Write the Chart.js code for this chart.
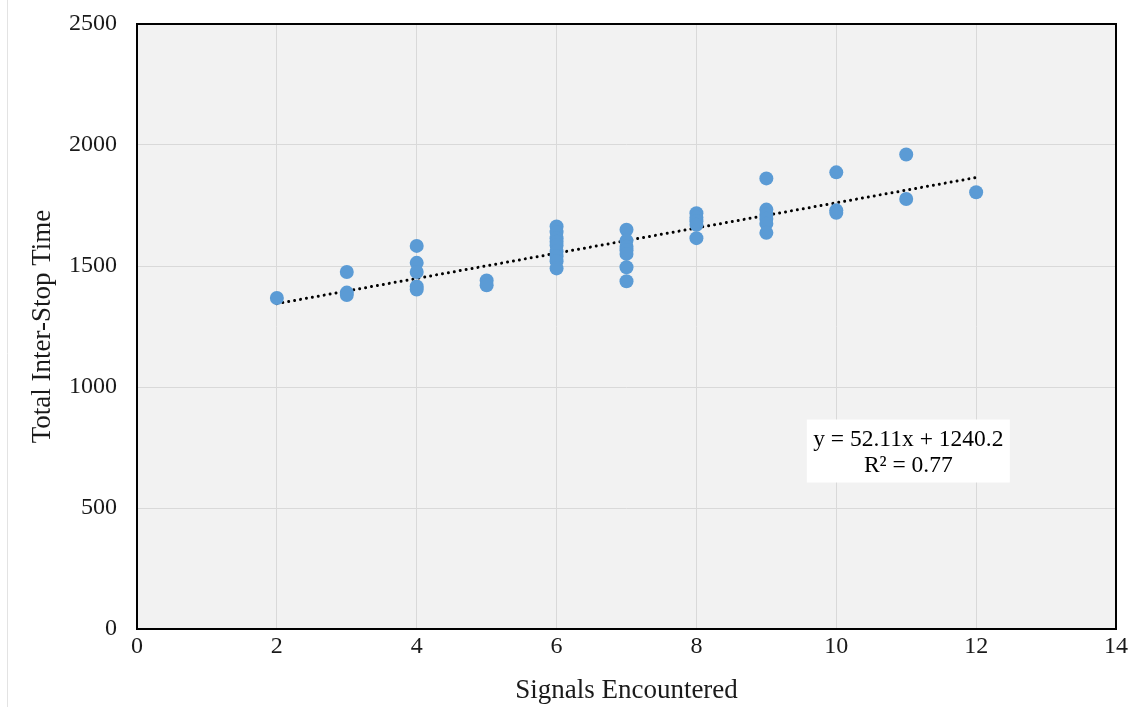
<!DOCTYPE html>
<html>
<head>
<meta charset="utf-8">
<script src="https://cdn.jsdelivr.net/npm/chart.js@4.4.1/dist/chart.umd.min.js"></script>
<style>
  html, body { margin: 0; padding: 0; background: #ffffff; }
  #wrap { width: 1130px; height: 707px; position: relative; }
</style>
</head>
<body>
<div id="wrap"><canvas id="c" width="1130" height="707"></canvas></div>
<script>
// Observations: number of signals encountered vs. total inter-stop time
const signals = [
  2,
  3, 3, 3,
  4, 4, 4, 4, 4,
  5, 5,
  6, 6, 6, 6, 6, 6, 6, 6, 6,
  7, 7, 7, 7, 7, 7, 7,
  8, 8, 8, 8, 8,
  9, 9, 9, 9, 9, 9,
  10, 10, 10,
  11, 11,
  12
];
const interStopTime = [
  1368,
  1475, 1390, 1380,
  1583, 1513, 1475, 1415, 1403,
  1440, 1420,
  1663, 1640, 1615, 1600, 1585, 1560, 1540, 1520, 1490,
  1650, 1605, 1580, 1565, 1550, 1495, 1437,
  1718, 1700, 1685, 1670, 1615,
  1862, 1733, 1712, 1695, 1675, 1637,
  1887, 1730, 1720,
  1961, 1777,
  1805
];

// Linear fit reported on the chart
const slope = 52.11;
const intercept = 1240.2;
const fitRange = [2, 12];
const equationLines = ['y = 52.11x + 1240.2', 'R\u00B2 = 0.77'];

const xTicks = [0, 2, 4, 6, 8, 10, 12, 14];
const yTicks = [0, 500, 1000, 1500, 2000, 2500];

const scatterData = signals.map((s, i) => ({ x: s, y: interStopTime[i] }));
const fitData = fitRange.map(x => ({ x: x, y: slope * x + intercept }));

const SERIF = '"Liberation Serif", "DejaVu Serif", serif';

const plotFrame = {
  id: 'plotFrame',
  beforeDraw(chart) {
    const { ctx, chartArea: a } = chart;
    ctx.save();
    ctx.fillStyle = '#ffffff';
    ctx.fillRect(0, 0, chart.width, chart.height);
    ctx.strokeStyle = '#e3e3e3';
    ctx.lineWidth = 1;
    ctx.beginPath();
    ctx.moveTo(7.5, 0);
    ctx.lineTo(7.5, chart.height);
    ctx.stroke();
    ctx.fillStyle = '#f2f2f2';
    ctx.fillRect(a.left, a.top, a.right - a.left, a.bottom - a.top);
    ctx.restore();
  },
  afterDatasetsDraw(chart) {
    const { ctx, chartArea: a, scales } = chart;
    ctx.save();
    // equation box
    const cx = scales.x.getPixelForValue(11.03);
    const cy = scales.y.getPixelForValue(735.5);
    const w = 203, h = 63;
    ctx.fillStyle = '#ffffff';
    ctx.fillRect(cx - w / 2, cy - h / 2, w, h);
    ctx.fillStyle = '#000000';
    ctx.font = '23.5px ' + SERIF;
    ctx.textAlign = 'center';
    ctx.textBaseline = 'middle';
    ctx.fillText(equationLines[0], cx, cy - 11);
    ctx.fillText(equationLines[1], cx, cy + 15);
    // plot border
    ctx.strokeStyle = '#000000';
    ctx.lineWidth = 2;
    ctx.strokeRect(a.left, a.top, a.right - a.left, a.bottom - a.top);
    ctx.restore();
  }
};

new Chart(document.getElementById('c'), {
  type: 'scatter',
  data: {
    datasets: [
      {
        label: 'Observations',
        data: scatterData,
        backgroundColor: '#5b9bd5',
        borderColor: '#5b9bd5',
        pointRadius: 7,
        pointHoverRadius: 7,
        borderWidth: 0
      },
      {
        label: 'Linear fit',
        type: 'line',
        data: fitData,
        borderColor: '#000000',
        borderWidth: 3,
        borderDash: [0.01, 6],
        borderCapStyle: 'round',
        pointRadius: 0,
        fill: false
      }
    ]
  },
  options: {
    responsive: false,
    animation: false,
    events: [],
    layout: { padding: { left: 27, right: 14, top: 24, bottom: 0 } },
    plugins: {
      legend: { display: false },
      tooltip: { enabled: false }
    },
    scales: {
      x: {
        type: 'linear',
        min: 0,
        max: 14,
        afterBuildTicks(scale) { scale.ticks = xTicks.map(v => ({ value: v })); },
        afterFit(scale) {
          scale.height = 78;
          scale.paddingLeft = 0;
          scale.paddingRight = 0;
        },
        grid: { color: '#d9d9d9', lineWidth: 1, drawTicks: false },
        border: { display: false },
        ticks: {
          color: '#1a1a1a',
          font: { family: SERIF, size: 24 },
          padding: 3,
          callback: v => String(v)
        },
        title: {
          display: true,
          text: 'Signals Encountered',
          color: '#1a1a1a',
          font: { family: SERIF, size: 27 },
          padding: { top: 4, bottom: 0 }
        }
      },
      y: {
        type: 'linear',
        min: 0,
        max: 2500,
        afterBuildTicks(scale) { scale.ticks = yTicks.map(v => ({ value: v })); },
        afterFit(scale) {
          scale.width = 110;
          scale.paddingTop = 0;
          scale.paddingBottom = 0;
        },
        grid: { color: '#d9d9d9', lineWidth: 1, drawTicks: false },
        border: { display: false },
        ticks: {
          color: '#1a1a1a',
          font: { family: SERIF, size: 24 },
          padding: 20,
          callback: v => String(v)
        },
        title: {
          display: true,
          text: 'Total Inter-Stop Time',
          color: '#1a1a1a',
          font: { family: SERIF, size: 27 },
          padding: { top: 0, bottom: 0 }
        }
      }
    }
  },
  plugins: [plotFrame]
});
</script>
</body>
</html>
